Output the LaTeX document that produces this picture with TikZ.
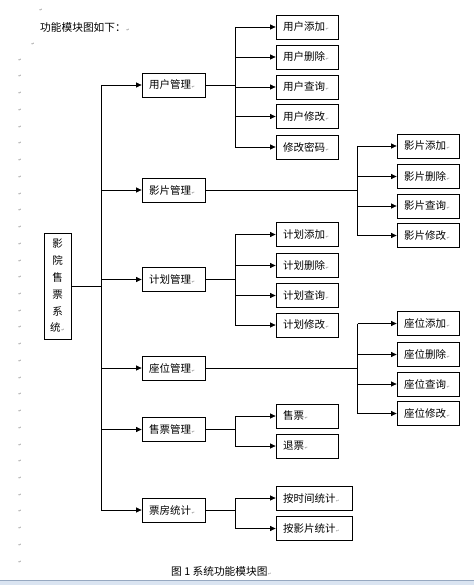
\documentclass[tikz,border=0pt]{standalone}
\usepackage{fontspec}
\usepackage{xcolor}
\usepackage{tikz}
\usetikzlibrary{arrows.meta, positioning, calc}
\newfontfamily\cjk{Noto Sans CJK SC}
\newfontfamily\markfont{DejaVu Sans}
\definecolor{markgray}{RGB}{120, 120, 120}
\definecolor{barblue}{RGB}{218, 228, 241}
\definecolor{barline}{RGB}{150, 168, 192}
\newcommand{\pmk}{{\markfont\fontsize{4}{4}\selectfont\color{markgray}\,↵}}
\tikzset{
    modbox/.style={rectangle, draw, line width=0.8pt, minimum width=63pt,
                   minimum height=24pt, inner xsep=7pt, inner ysep=0pt,
                   text width=49pt, align=left,
                   font=\cjk\fontsize{10.5}{12}\selectfont},
    subbox/.style={modbox, minimum width=62pt, text width=48pt},
    widebox/.style={modbox, minimum width=76pt, text width=62pt},
    rootbox/.style={rectangle, draw, line width=0.8pt, minimum width=27pt,
                    minimum height=106pt, inner sep=0pt, align=center,
                    font=\cjk\fontsize{10.5}{16.8}\selectfont},
    plain/.style={inner sep=0pt, anchor=west,
                  font=\cjk\fontsize{10.7}{12}\selectfont},
    pmark/.style={inner sep=0pt, font=\markfont\fontsize{4}{4}\selectfont,
                  text=markgray},
    arr/.style={-{Triangle[length=5.5pt, width=5pt]}, line width=0.7pt},
    lnk/.style={line width=0.7pt},
}
\begin{document}
\begin{tikzpicture}[x=1pt, y=-1pt]
    \useasboundingbox (0,0) rectangle (474,585);

    % Word page marks
    \node[pmark] (mt) at (41,10) {↵};
    \node[pmark] (mu) at (33,44) {↵};
    \foreach \i in {0,...,30}
        \node[pmark] (m\i) at (20,{60+\i*16.73}) {↵};
    \node[plain] (intro) at (40,27) {功能模块图如下：\pmk};

    % Root
    \node[rootbox] (root) at (57.5,286) {影\\院\\售\\票\\系\\统\pmk};
    \coordinate (trk) at (101,0);
    \coordinate (br1) at (235,0);
    \coordinate (br2) at (357.5,0);

    % Modules
    \node[modbox] (user) at (173.5,85) {用户管理\pmk};
    \node[modbox] (film) at (173.5,190) {影片管理\pmk};
    \node[modbox] (plan) at (173.5,279.5) {计划管理\pmk};
    \node[modbox] (seat) at (173.5,368) {座位管理\pmk};
    \node[modbox] (sale) at (173.5,429.5) {售票管理\pmk};
    \node[modbox] (stat) at (173.5,510) {票房统计\pmk};

    \draw[lnk] (root.east) -- (root.east -| trk);
    \draw[lnk] (trk |- user) -- (trk |- stat);
    \foreach \m in {user, film, plan, seat, sale, stat}
        \draw[arr] (trk |- \m) -- (\m.west);

    % User management
    \node[subbox] (ua) at (307,27) {用户添加\pmk};
    \node[subbox] (ud) at (307,57) {用户删除\pmk};
    \node[subbox] (uq) at (307,87) {用户查询\pmk};
    \node[subbox] (um) at (307,116.5) {用户修改\pmk};
    \node[subbox] (up) at (307,147) {修改密码\pmk};
    \draw[lnk] (user.east) -- (user.east -| br1);
    \draw[lnk] (br1 |- ua) -- (br1 |- up);
    \foreach \s in {ua, ud, uq, um, up}
        \draw[arr] (br1 |- \s) -- (\s.west);

    % Film management
    \node[subbox] (fa) at (428,146) {影片添加\pmk};
    \node[subbox] (fd) at (428,176.5) {影片删除\pmk};
    \node[subbox] (fq) at (428,206) {影片查询\pmk};
    \node[subbox] (fm) at (428,235.5) {影片修改\pmk};
    \draw[lnk] (film.east) -- (film.east -| br2);
    \draw[lnk] (br2 |- fa) -- (br2 |- fm);
    \foreach \s in {fa, fd, fq, fm}
        \draw[arr] (br2 |- \s) -- (\s.west);

    % Plan management
    \node[subbox] (pa) at (307,234.5) {计划添加\pmk};
    \node[subbox] (pd) at (307,265.5) {计划删除\pmk};
    \node[subbox] (pq) at (307,295.5) {计划查询\pmk};
    \node[subbox] (pm) at (307,325) {计划修改\pmk};
    \draw[lnk] (plan.east) -- (plan.east -| br1);
    \draw[lnk] (br1 |- pa) -- (br1 |- pm);
    \foreach \s in {pa, pd, pq, pm}
        \draw[arr] (br1 |- \s) -- (\s.west);

    % Seat management
    \node[subbox] (sa) at (428,323.5) {座位添加\pmk};
    \node[subbox] (sd) at (428,354.5) {座位删除\pmk};
    \node[subbox] (sq) at (428,384) {座位查询\pmk};
    \node[subbox] (sm) at (428,413.5) {座位修改\pmk};
    \draw[lnk] (seat.east) -- (seat.east -| br2);
    \draw[lnk] (br2 |- sa) -- (br2 |- sm);
    \foreach \s in {sa, sd, sq, sm}
        \draw[arr] (br2 |- \s) -- (\s.west);

    % Ticket sale
    \node[subbox] (tb) at (307,416) {售票\pmk};
    \node[subbox] (tr) at (307,446) {退票\pmk};
    \draw[lnk] (sale.east) -- (sale.east -| br1);
    \draw[lnk] (br1 |- tb) -- (br1 |- tr);
    \foreach \s in {tb, tr}
        \draw[arr] (br1 |- \s) -- (\s.west);

    % Box office
    \node[widebox] (bt) at (314,498) {按时间统计\pmk};
    \node[widebox] (bf) at (314,528.5) {按影片统计\pmk};
    \draw[lnk] (stat.east) -- (stat.east -| br1);
    \draw[lnk] (br1 |- bt) -- (br1 |- bf);
    \foreach \s in {bt, bf}
        \draw[arr] (br1 |- \s) -- (\s.west);

    % Caption and window edge
    \node[plain] (cap) at (171,571) {图 1 系统功能模块图\pmk};
    \fill[barblue] (0,580) rectangle (474,585);
    \draw[barline, line width=0.8pt] (0,580) -- (474,580);
\end{tikzpicture}
\end{document}
